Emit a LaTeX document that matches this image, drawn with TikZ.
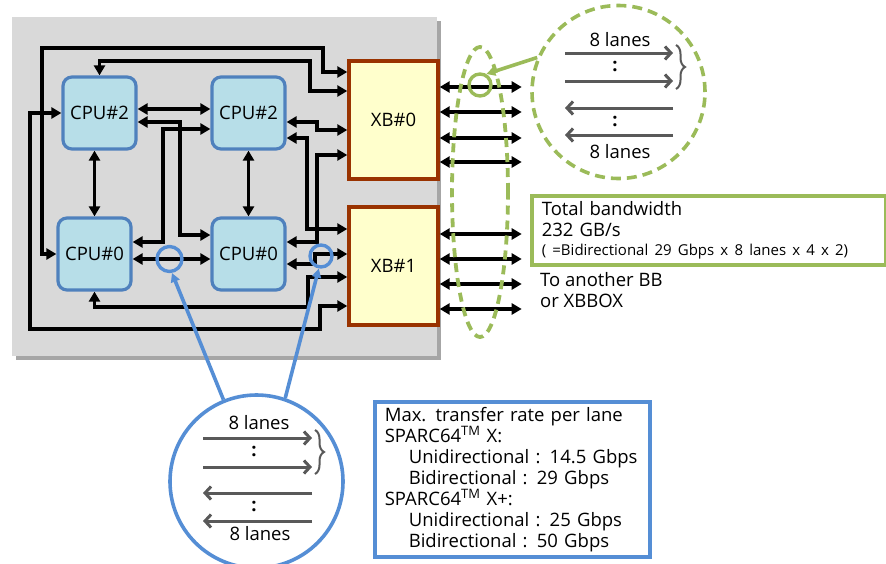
\documentclass[tikz,border=0pt]{standalone}
\usepackage{fontspec}
\setmainfont{Open Sans}
\usetikzlibrary{arrows.meta,decorations.pathreplacing}

\definecolor{bggray}{HTML}{D9D9D9}
\definecolor{bgshade}{HTML}{A6A6A6}
\definecolor{cpufill}{HTML}{B7DEE8}
\definecolor{cpuline}{HTML}{4F81BD}
\definecolor{xbfill}{HTML}{FFFFCC}
\definecolor{xbline}{HTML}{993300}
\definecolor{grn}{HTML}{9BBB59}
\definecolor{bluel}{HTML}{558ED5}
\definecolor{lanegray}{HTML}{595959}

\tikzset{
  cpu/.style={draw=cpuline, fill=cpufill, line width=3.2pt, rounded corners=9pt,
    minimum width=73pt, minimum height=72pt, inner sep=0pt},
  xb/.style={draw=xbline, fill=xbfill, line width=3.4pt,
    minimum width=89pt, minimum height=118pt, inner sep=0pt},
  wire/.style={line width=3.5pt,
    {Triangle[length=10pt,width=11pt]}-{Triangle[length=10pt,width=11pt]}},
  lane/.style={draw=lanegray, line width=3pt, -{Straight Barb[length=6pt,width=13pt,line width=3pt]}},
  lbrace/.style={draw=lanegray, line width=2pt, decorate, decoration={brace, amplitude=9pt}},
  tap/.style={circle, line width=3.4pt, inner sep=0pt},
  zoomring/.style={circle, line width=3.6pt, minimum size=173pt, inner sep=0pt},
  pointer/.style={line width=3.6pt, -{Triangle[length=9pt,width=9pt]}},
  infobox/.style={line width=3.6pt, fill=white, inner xsep=10pt, align=left, anchor=north west}
}

\begin{document}
\begin{tikzpicture}[x=1pt, y=-1pt, font=\fontsize{18.5}{21}\selectfont]
  \useasboundingbox (0,0) rectangle (886,563);
  % system board
  \fill[bgshade] (16,21) rectangle (441,360);
  \fill[bggray] (12,17) rectangle (437,356);

  % CPUs and crossbars
  \node[cpu] (cpu2l) at (99.5,113) {CPU\#2};
  \node[cpu] (cpu2r) at (248.5,113) {CPU\#2};
  \node[cpu] (cpu0l) at (94.5,254) {CPU\#0};
  \node[cpu] (cpu0r) at (248.5,254) {CPU\#0};
  \node[xb] (xb0) at (393.5,120) {XB\#0};
  \node[xb] (xb1) at (393.5,266) {XB\#1};

  % CPU <-> CPU
  \draw[wire] (cpu2l.east |- 0,109) -- (cpu2r.west |- 0,109);
  \draw[wire] (cpu0l.east |- 0,259) -- (cpu0r.west |- 0,259);
  \draw[wire] (cpu0l.north |- cpu2l.south) -- (cpu0l.north);
  \draw[wire] (cpu2r.south) -- (cpu0r.north);
  \draw[wire] (cpu2l.east |- 0,122) -| (180,235) -- (cpu0r.west |- 0,235);
  \draw[wire] (cpu0l.east |- 0,242) -| (163,129) -- (cpu2r.west |- 0,129);

  % CPU <-> XB#0
  \draw[wire] (cpu0l.west) -| (42,48) -| (323,72) -- (xb0.west |- 0,72);
  \draw[wire] (cpu2l.north) |- (310,61) |- (xb0.west |- 0,91);
  \draw[wire] (cpu2r.east |- 0,122) -| (317,130) -- (xb0.west |- 0,130);
  \draw[wire] (xb0.west |- 0,155) -| (317,242) -- (cpu0r.east |- 0,242);

  % CPU <-> XB#1
  \draw[wire] (cpu2r.east |- 0,138) -| (307,229) -- (xb1.west |- 0,229);
  \draw[wire] (cpu0r.east |- 0,264) -| (315,254) -- (xb1.west |- 0,254);
  \draw[wire] (cpu0l.south) |- (308,307) |- (xb1.west |- 0,277);
  \draw[wire] (cpu2l.west) -| (30,329) -| (320,306) -- (xb1.west |- 0,306);

  % links out of the board
  \draw[wire] (xb0.east |- 0,87) -- ++(82,0);
  \draw[wire] (xb0.east |- 0,112) -- ++(82,0);
  \draw[wire] (xb0.east |- 0,138) -- ++(82,0);
  \draw[wire] (xb0.east |- 0,162) -- ++(82,0);
  \draw[wire] (xb1.east |- 0,234) -- ++(82,0);
  \draw[wire] (xb1.east |- 0,259) -- ++(82,0);
  \draw[wire] (xb1.east |- 0,284) -- ++(82,0);
  \draw[wire] (xb1.east |- 0,309) -- ++(82,0);
  \draw[grn, line width=3.8pt, dash pattern=on 9pt off 6pt]
    (480,192) ellipse [x radius=28pt, y radius=145pt];

  % green close-up
  \node[tap, draw=grn, minimum size=22pt] (tapg) at (480,85) {};
  \node[zoomring, draw=grn, dash pattern=on 10pt off 6pt] (zoomg) at (618.5,92) {};
  \draw[grn, pointer] (zoomg.157) -- (tapg.60);
  \node (lgtop) at (620,40) {8 lanes};
  \draw[lane] (565,53) -- (673,53);
  \draw[lane] (565,81) -- (673,81);
  \node (dgtop) at (615,66) {\textbf{:}};
  \draw[lbrace] (676,45) -- (676,89);
  \draw[lane] (673,108) -- (565,108);
  \draw[lane] (673,135) -- (565,135);
  \node (dgbot) at (615,121) {\textbf{:}};
  \node (lgbot) at (620,152) {8 lanes};

  % blue close-up
  \node[tap, draw=bluel, minimum size=25pt] (tapl) at (169.5,259) {};
  \node[tap, draw=bluel, minimum size=22pt] (tapr) at (321,256) {};
  \node[zoomring, draw=bluel] (zoomb) at (256.5,481.5) {};
  \draw[bluel, pointer] (zoomb.112) -- (tapl.-80);
  \draw[bluel, pointer] (zoomb.71) -- (tapr.-100);
  \node (lbtop) at (259,423) {8 lanes};
  \draw[lane] (203,438) -- (312,438);
  \draw[lane] (203,467) -- (312,467);
  \node (dbtop) at (254,451) {\textbf{:}};
  \draw[lbrace] (315,430) -- (315,474);
  \draw[lane] (312,493) -- (203,493);
  \draw[lane] (312,521) -- (203,521);
  \node (dbbot) at (254,506) {\textbf{:}};
  \node (lbbot) at (260,534) {8 lanes};

  % text boxes
  \node[infobox, draw=grn, minimum width=354pt, minimum height=69pt, text width=334pt]
    (bw) at (530,194) {Total bandwidth\\232 GB/s\\[-2pt]
    {\fontsize{15}{18}\selectfont ( =Bidirectional 29 Gbps x 8 lanes x 4 x 2)}};
  \node[align=left, anchor=west, inner sep=0pt] (dest) at (540,290) {To another BB\\or XBBOX};
  \node[infobox, draw=bluel, minimum width=275pt, minimum height=155pt, text width=255pt]
    (rate) at (373,400) {Max. transfer rate per lane\\
    SPARC64\textsuperscript{TM} X:\\
    \hspace*{24pt}Unidirectional : 14.5 Gbps\\
    \hspace*{24pt}Bidirectional : 29 Gbps\\
    SPARC64\textsuperscript{TM} X+:\\
    \hspace*{24pt}Unidirectional : 25 Gbps\\
    \hspace*{24pt}Bidirectional : 50 Gbps};
\end{tikzpicture}
\end{document}
